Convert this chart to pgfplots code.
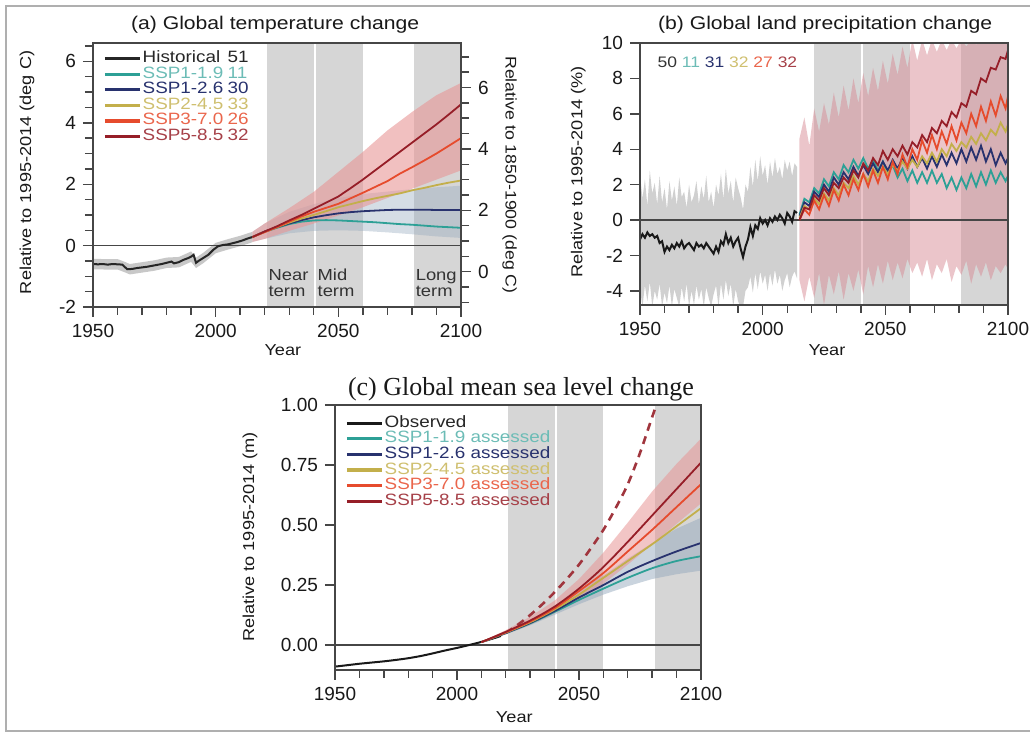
\documentclass[border=0pt]{standalone}
\usepackage{pgfplots}
\pgfplotsset{compat=1.18}
\usepackage{pgfplotstable}
\usepackage{fontspec}
\setmainfont{Liberation Sans}
\newfontfamily\wide{Liberation Sans}[FakeStretch=1.15]
\newfontfamily\tnr{Liberation Serif}

\definecolor{cA}{RGB}{45,160,150}
\definecolor{cB}{RGB}{40,50,110}
\definecolor{cC}{RGB}{195,175,75}
\definecolor{cD}{RGB}{230,75,45}
\definecolor{cE}{RGB}{150,30,40}
\definecolor{shadec}{RGB}{214,214,214}
\definecolor{hband}{RGB}{200,200,200}
\definecolor{pband}{RGB}{232,150,150}
\definecolor{pbandb}{RGB}{215,140,150}
\definecolor{bband}{RGB}{150,170,190}
\definecolor{axc}{RGB}{70,70,70}
\definecolor{framec}{RGB}{175,175,175}

% ---------- (a) temperature ----------
\pgfplotstableread{
year val
1950 -0.60
1952 -0.61
1954 -0.60
1956 -0.62
1958 -0.60
1960 -0.61
1962 -0.62
1963 -0.70
1964 -0.77
1966 -0.76
1968 -0.73
1970 -0.71
1972 -0.69
1974 -0.66
1976 -0.63
1978 -0.60
1980 -0.56
1982 -0.52
1983 -0.58
1985 -0.54
1987 -0.46
1989 -0.40
1990 -0.36
1991 -0.30
1992 -0.56
1993 -0.50
1995 -0.40
1997 -0.30
1999 -0.14
2001 -0.02
2003 0.02
2005 0.04
2007 0.08
2009 0.12
2011 0.17
2013 0.23
2015 0.28
}\tAH

\pgfplotstableread{
year s119 s126 s245 s370 s585
2015 0.28 0.28 0.28 0.28 0.28
2020 0.45 0.46 0.45 0.44 0.46
2025 0.58 0.60 0.60 0.60 0.63
2030 0.70 0.72 0.75 0.78 0.82
2035 0.78 0.83 0.88 0.95 1.00
2040 0.82 0.92 1.00 1.10 1.20
2045 0.83 0.99 1.12 1.23 1.40
2050 0.82 1.05 1.25 1.36 1.60
2055 0.80 1.09 1.35 1.54 1.87
2060 0.78 1.12 1.45 1.72 2.15
2065 0.76 1.14 1.54 1.91 2.45
2070 0.73 1.16 1.62 2.10 2.75
2075 0.70 1.17 1.70 2.34 3.05
2080 0.68 1.17 1.80 2.55 3.35
2085 0.65 1.17 1.88 2.77 3.65
2090 0.62 1.16 1.97 3.00 3.95
2095 0.60 1.16 2.05 3.25 4.27
2100 0.58 1.16 2.12 3.50 4.60
}\tAS

% ---------- (b) precipitation ----------
\pgfplotstableread{
year val
1950 -1.1
1951 -0.8
1952 -1.0
1953 -0.7
1954 -0.9
1955 -0.8
1956 -1.0
1957 -0.9
1958 -1.3
1959 -1.2
1960 -1.8
1961 -1.5
1962 -1.7
1963 -1.4
1964 -1.6
1965 -1.3
1966 -1.5
1967 -1.2
1968 -1.6
1969 -1.4
1970 -1.3
1971 -1.5
1972 -1.7
1973 -1.3
1974 -1.5
1975 -1.4
1976 -1.6
1977 -1.3
1978 -1.5
1979 -1.7
1980 -1.9
1981 -1.5
1982 -1.8
1983 -1.2
1984 -1.4
1985 -0.8
1986 -1.3
1987 -1.0
1988 -1.5
1989 -1.2
1990 -1.0
1991 -1.6
1992 -2.1
1993 -1.5
1994 -1.1
1995 -0.4
1996 -0.9
1997 -0.3
1998 -0.5
1999 0.1
2000 -0.2
2001 0.0
2002 -0.3
2003 0.1
2004 -0.1
2005 0.2
2006 0.0
2007 0.3
2008 0.1
2009 -0.2
2010 0.4
2011 0.2
2012 -0.1
2013 0.5
2014 0.4
}\tBH

\pgfplotstableread{
year s119 s126 s245 s370 s585
2015 0.3 0.2 0.1 0.0 0.0
2017 1.2 1.0 0.8 0.6 0.7
2019 1.0 0.8 0.6 0.3 0.6
2021 1.8 1.6 1.2 1.1 1.4
2023 1.5 1.3 0.9 0.6 1.1
2025 2.3 2.0 1.5 1.4 1.8
2027 1.9 1.6 1.1 0.8 1.4
2029 2.7 2.4 1.8 1.7 2.1
2031 2.3 2.0 1.4 1.1 1.8
2033 3.1 2.7 2.1 2.0 2.4
2035 2.7 2.3 1.8 1.4 2.1
2037 3.4 3.0 2.5 2.3 2.8
2039 2.9 2.5 2.0 1.7 2.4
2041 3.5 3.1 2.6 2.6 3.2
2043 2.9 2.6 2.2 1.9 2.8
2045 3.4 3.2 2.9 2.8 3.5
2047 2.8 2.7 2.5 2.1 3.1
2049 3.3 3.3 3.0 3.0 3.9
2051 2.6 2.8 2.6 2.3 3.4
2053 3.1 3.4 3.1 3.3 4.0
2055 2.4 2.9 2.8 2.6 3.6
2057 2.9 3.5 3.3 3.7 4.2
2059 2.2 2.9 2.9 3.0 3.7
2061 2.8 3.6 3.4 4.0 4.4
2063 2.1 3.0 3.0 3.4 4.1
2065 2.7 3.5 3.6 4.5 4.8
2067 2.1 2.9 3.2 3.8 4.4
2069 2.8 3.6 3.8 4.8 5.2
2071 2.1 3.0 3.3 4.0 4.9
2073 2.6 3.7 4.0 5.0 5.6
2075 1.8 3.1 3.6 4.3 5.3
2077 2.4 3.8 4.3 5.3 6.1
2079 1.7 3.2 3.9 4.5 5.8
2081 2.4 4.0 4.4 5.5 6.6
2083 1.8 3.3 4.1 4.9 6.4
2085 2.6 4.1 4.7 6.0 7.3
2087 1.9 3.4 4.3 5.3 7.1
2089 2.7 4.2 4.9 6.4 8.0
2091 2.0 3.3 4.5 5.6 7.8
2093 2.8 4.0 5.1 6.7 8.6
2095 2.1 3.1 4.8 5.9 8.5
2097 2.7 3.8 5.5 7.0 9.2
2099 2.2 3.2 5.0 6.3 9.1
2100 2.5 3.5 5.4 7.0 9.6
}\tBS

% ---------- (c) sea level ----------
\pgfplotstableread{
year val
1950 -0.090
1955 -0.084
1960 -0.078
1965 -0.073
1970 -0.068
1975 -0.062
1980 -0.055
1985 -0.046
1990 -0.035
1995 -0.023
2000 -0.012
2005 0.000
2010 0.013
2015 0.028
2018 0.038
}\tCH

\pgfplotstableread{
year s119 s126 s245 s370 s585
2010 0.012 0.012 0.012 0.012 0.012
2020 0.050 0.050 0.052 0.053 0.055
2030 0.090 0.092 0.095 0.098 0.102
2040 0.138 0.142 0.148 0.153 0.160
2050 0.188 0.198 0.210 0.225 0.235
2060 0.235 0.250 0.280 0.300 0.325
2070 0.280 0.305 0.350 0.390 0.430
2080 0.320 0.350 0.420 0.480 0.540
2090 0.350 0.390 0.495 0.575 0.650
2100 0.370 0.425 0.570 0.670 0.760
}\tCS

\pgfplotstableread{
year val
2020 0.050
2025 0.085
2030 0.125
2035 0.170
2040 0.220
2045 0.275
2050 0.335
2055 0.405
2060 0.480
2065 0.570
2070 0.670
2075 0.800
2080 0.950
2084 1.070
}\tCD

\pgfplotsset{
  panel/.style={
    scale only axis,
    xmin=1950, xmax=2100,
    xtick={1950,2000,2050,2100},
    minor xtick={1960,1970,1980,1990,2010,2020,2030,2040,2060,2070,2080,2090},
    xtick pos=bottom, ytick pos=left,
    tick align=outside,
    major tick length=5pt, minor tick length=4pt,
    tick style={axc, line width=0.7pt},
    axis line style={axc, line width=0.8pt},
    tick label style={font=\fontsize{9.5}{10}\selectfont, text=black!90},
    /pgf/number format/assume math mode=true,
    xticklabel style={/pgf/number format/1000 sep={}},
    axis on top,
    every axis title shift=0pt,
    every axis label/.append style={font=\wide\fontsize{7.9}{8}\selectfont, text=black!90},
    every axis title/.append style={font=\wide\fontsize{9.2}{9.5}\selectfont, text=black!90},
    legend cell align=left,
    legend image code/.code={\draw[##1, line width=1.6pt] (0pt,0pt) -- (17.5pt,0pt);},
  },
  leg/.style={legend style={draw=none, fill=none, anchor=north west,
    font=\wide\fontsize{8.2}{8.2}\selectfont, inner sep=0pt, row sep=0pt,
    nodes={inner sep=0.6pt, text height=5.3pt, text depth=1.3pt}}},
}
\newcommand\legitem[2]{\makebox[42.5pt][l]{#1}#2}

\begin{document}
\begin{tikzpicture}
\useasboundingbox (0,0) rectangle (515pt,366.5pt);
\draw[framec, line width=1.2pt] (515pt,1pt) -- (3pt,1pt) -- (3pt,363.5pt) -- (515pt,363.5pt);

% ================= (a) =================
\begin{axis}[panel, leg, width=184pt, height=132pt, at={(46.5pt,213pt)}, anchor=south west,
  ymin=-2, ymax=6.6,
  ytick={-2,0,2,4,6},
  minor ytick={-1.5,-1,-0.5,0.5,1,1.5,2.5,3,3.5,4.5,5,5.5,6.5},
  title={(a) Global temperature change},
  title style={at={(axis description cs:0.495,1.07)}, anchor=center},
  xlabel={Year}, xlabel style={at={(axis description cs:0.516,-0.163)}, anchor=center},
  ylabel={Relative to 1995-2014 (deg C)}, ylabel style={at={(axis description cs:-0.179,0.51)}, anchor=center},
  legend style={at={(axis description cs:0.027,0.972)}},
]
\addplot[fill=shadec, draw=none, forget plot] coordinates {(2021,-2) (2040,-2) (2040,6.6) (2021,6.6)};
\addplot[fill=shadec, draw=none, forget plot] coordinates {(2041,-2) (2060,-2) (2060,6.6) (2041,6.6)};
\addplot[fill=shadec, draw=none, forget plot] coordinates {(2081,-2) (2100,-2) (2100,6.6) (2081,6.6)};
% historical range
\addplot[fill=hband, draw=none, forget plot] coordinates {
 (1950,-0.43) (1955,-0.44) (1960,-0.44) (1963,-0.53) (1965,-0.60) (1970,-0.54) (1975,-0.48) (1980,-0.39)
 (1985,-0.37) (1990,-0.19) (1992,-0.39) (1995,-0.23) (2000,0.09) (2005,0.21) (2010,0.32) (2015,0.45)
 (2015,0.11) (2010,-0.02) (2005,-0.13) (2000,-0.25) (1995,-0.57) (1992,-0.73) (1990,-0.53) (1985,-0.71)
 (1980,-0.73) (1975,-0.82) (1970,-0.88) (1965,-0.94) (1963,-0.87) (1960,-0.78) (1955,-0.78) (1950,-0.77)};
% low-scenario range
\addplot[fill=bband, fill opacity=0.4, draw=none, forget plot] coordinates {
 (2015,0.45) (2020,0.72) (2030,1.10) (2040,1.35) (2050,1.55) (2060,1.68) (2070,1.76) (2080,1.84) (2090,1.90) (2100,1.95)
 (2100,0.25) (2090,0.30) (2080,0.37) (2070,0.43) (2060,0.48) (2050,0.50) (2040,0.48) (2030,0.40) (2020,0.22) (2015,0.12)};
% high-scenario range
\addplot[fill=pband, fill opacity=0.6, draw=none, forget plot] coordinates {
 (2015,0.45) (2020,0.72) (2030,1.22) (2040,1.75) (2050,2.40) (2060,3.05) (2070,3.75) (2080,4.35) (2090,4.90) (2100,5.30)
 (2100,2.45) (2090,2.15) (2080,1.85) (2070,1.55) (2060,1.25) (2050,0.98) (2040,0.72) (2030,0.48) (2020,0.22) (2015,0.12)};
\addplot[axc, line width=0.8pt, forget plot] coordinates {(1950,0) (2100,0)};
\addplot[black!85, line width=1pt] table[x=year, y=val]{\tAH};
\addlegendentry{\textcolor{black!85}{\legitem{Historical}{51}}}
\addplot[cA, line width=0.9pt] table[x=year, y=s119]{\tAS};
\addlegendentry{\textcolor{cA!70}{\legitem{SSP1-1.9}{11}}}
\addplot[cB, line width=0.9pt] table[x=year, y=s126]{\tAS};
\addlegendentry{\textcolor{cB}{\legitem{SSP1-2.6}{30}}}
\addplot[cC, line width=0.9pt] table[x=year, y=s245]{\tAS};
\addlegendentry{\textcolor{cC!80}{\legitem{SSP2-4.5}{33}}}
\addplot[cD, line width=0.9pt] table[x=year, y=s370]{\tAS};
\addlegendentry{\textcolor{cD!85}{\legitem{SSP3-7.0}{26}}}
\addplot[cE, line width=0.9pt] table[x=year, y=s585]{\tAS};
\addlegendentry{\textcolor{cE!85}{\legitem{SSP5-8.5}{32}}}
\node[anchor=north west, align=left, inner sep=0.5pt, font=\wide\fontsize{8}{8}\selectfont, text=black!80] at (axis cs:2021,-0.72) {Near\\term};
\node[anchor=north west, align=left, inner sep=0.5pt, font=\wide\fontsize{8}{8}\selectfont, text=black!80] at (axis cs:2041,-0.72) {Mid\\term};
\node[anchor=north west, align=left, inner sep=0.5pt, font=\wide\fontsize{8}{8}\selectfont, text=black!80] at (axis cs:2081,-0.72) {Long\\term};
\end{axis}

% right axis of (a)
\begin{axis}[scale only axis, width=184pt, height=132pt, at={(46.5pt,213pt)}, anchor=south west,
  xmin=1950, xmax=2100, ymin=-1.15, ymax=7.45,
  hide x axis, axis y line*=right,
  ytick={0,2,4,6},
  minor ytick={-1,-0.5,0.5,1,1.5,2.5,3,3.5,4.5,5,5.5,6.5,7},
  tick align=outside, major tick length=5pt, minor tick length=4pt,
  tick style={axc, line width=0.7pt},
  axis line style={axc, line width=0.8pt},
  tick label style={font=\fontsize{9.5}{10}\selectfont, text=black!90},
  /pgf/number format/assume math mode=true,
  ylabel={Relative to 1850-1900 (deg C)},
  ylabel style={font=\wide\fontsize{7.7}{8}\selectfont, text=black!90, rotate=180},
]
\addplot[draw=none, forget plot] coordinates {(1950,0) (2100,0)};
\end{axis}

% ================= (b) =================
\begin{axis}[panel, width=184pt, height=131pt, at={(320pt,214pt)}, anchor=south west,
  ymin=-4.8, ymax=10,
  ytick={-4,-2,0,2,4,6,8,10},
  title={(b) Global land precipitation change},
  title style={at={(axis description cs:0.503,1.07)}, anchor=center},
  xlabel={Year}, xlabel style={at={(axis description cs:0.508,-0.172)}, anchor=center},
  ylabel={Relative to 1995-2014 (\%)}, ylabel style={at={(axis description cs:-0.168,0.508)}, anchor=center},
]
\addplot[fill=shadec, draw=none, forget plot] coordinates {(2021,-4.8) (2040,-4.8) (2040,10) (2021,10)};
\addplot[fill=shadec, draw=none, forget plot] coordinates {(2041,-4.8) (2060,-4.8) (2060,10) (2041,10)};
\addplot[fill=shadec, draw=none, forget plot] coordinates {(2081,-4.8) (2100,-4.8) (2100,10) (2081,10)};
% historical range
\addplot[fill=hband, fill opacity=0.85, draw=none, forget plot] coordinates {
 (1950,2.6) (1951,1.2) (1952,2.3) (1953,0.8) (1954,2.8) (1955,1.5) (1956,2.1) (1957,0.9) (1958,2.5) (1959,1.0)
 (1960,1.8) (1961,0.6) (1962,2.2) (1963,1.1) (1964,1.9) (1965,0.8) (1966,2.4) (1967,1.3) (1968,1.6) (1969,0.7)
 (1970,2.0) (1971,1.0) (1972,1.4) (1973,2.2) (1974,0.9) (1975,1.9) (1976,1.2) (1977,2.5) (1978,1.0) (1979,1.6)
 (1980,0.7) (1981,2.0) (1982,1.4) (1983,2.6) (1984,1.2) (1985,2.9) (1986,1.5) (1987,2.2) (1988,1.0) (1989,2.4)
 (1990,1.8) (1991,1.3) (1992,0.6) (1993,2.0) (1994,1.6) (1995,3.0) (1996,1.9) (1997,3.4) (1998,2.2) (1999,3.6)
 (2000,2.5) (2001,3.1) (2002,2.0) (2003,3.3) (2004,2.4) (2005,3.5) (2006,2.6) (2007,3.0) (2008,2.3) (2009,3.4)
 (2010,2.8) (2011,3.3) (2012,2.5) (2013,3.2) (2014,3.0)
 (2014,-3.3) (2013,-2.9) (2012,-3.2) (2011,-3.8) (2010,-3.0) (2009,-3.4) (2008,-4.0) (2007,-3.1) (2006,-3.6) (2005,-2.8)
 (2004,-3.7) (2003,-3.0) (2002,-4.0) (2001,-3.1) (2000,-3.6) (1999,-2.9) (1998,-3.9) (1997,-3.0) (1996,-4.1) (1995,-3.2)
 (1994,-3.8) (1993,-4.0) (1992,-4.9) (1991,-4.9) (1990,-4.6) (1989,-3.9) (1988,-4.9) (1987,-3.6) (1986,-4.3) (1985,-3.4)
 (1984,-4.5) (1983,-3.6) (1982,-4.9) (1981,-3.7) (1980,-4.2) (1979,-4.9) (1978,-4.4) (1977,-3.8) (1976,-4.9) (1975,-3.9)
 (1974,-4.5) (1973,-3.7) (1972,-4.8) (1971,-4.0) (1970,-4.9) (1969,-3.6) (1968,-4.6) (1967,-3.8) (1966,-4.9) (1965,-4.4)
 (1964,-3.9) (1963,-4.9) (1962,-3.7) (1961,-4.7) (1960,-4.1) (1959,-4.9) (1958,-3.6) (1957,-4.5) (1956,-4.0) (1955,-4.9)
 (1954,-3.5) (1953,-4.6) (1952,-3.7) (1951,-4.9) (1950,-3.9)};
% scenario range
\addplot[fill=pbandb, fill opacity=0.5, draw=none, forget plot] coordinates {
 (2015,4.6) (2017,5.8) (2019,4.2) (2021,6.3) (2023,5.0) (2025,6.6) (2027,5.4) (2029,7.2) (2031,5.8) (2033,7.6)
 (2035,6.2) (2037,8.0) (2039,6.6) (2041,8.3) (2043,7.0) (2045,8.6) (2047,7.3) (2049,9.0) (2051,7.7) (2053,9.4)
 (2055,8.2) (2057,9.8) (2059,8.6) (2061,10.2) (2063,9.0) (2065,10.2) (2067,9.3) (2069,10.2) (2071,9.5) (2073,10.2)
 (2075,9.6) (2077,10.2) (2079,9.7) (2081,10.2) (2083,9.8) (2085,10.2) (2087,9.9) (2089,10.2) (2100,10.2)
 (2100,-2.8) (2099,-2.5) (2097,-3.0) (2095,-2.6) (2093,-3.4) (2091,-2.4) (2089,-3.2) (2087,-2.5) (2085,-3.6) (2083,-2.3)
 (2081,-3.1) (2079,-2.6) (2077,-3.5) (2075,-2.2) (2073,-3.0) (2071,-2.5) (2069,-3.4) (2067,-2.2) (2065,-3.2) (2063,-2.4)
 (2061,-3.0) (2059,-2.2) (2057,-3.3) (2055,-2.4) (2053,-3.4) (2051,-2.3) (2049,-3.6) (2047,-2.5) (2045,-3.8) (2043,-2.6)
 (2041,-4.2) (2039,-2.8) (2037,-4.0) (2035,-3.0) (2033,-4.5) (2031,-2.9) (2029,-4.2) (2027,-3.1) (2025,-4.8) (2023,-3.0)
 (2021,-4.4) (2019,-3.2) (2017,-4.6) (2015,-3.4)};
\addplot[axc, line width=0.8pt, forget plot] coordinates {(1950,0) (2100,0)};
\addplot[black!90, line width=1pt] table[x=year, y=val]{\tBH};
\addplot[cA, line width=0.9pt] table[x=year, y=s119]{\tBS};
\addplot[cB, line width=0.9pt] table[x=year, y=s126]{\tBS};
\addplot[cC, line width=0.9pt] table[x=year, y=s245]{\tBS};
\addplot[cD, line width=0.9pt] table[x=year, y=s370]{\tBS};
\addplot[cE, line width=0.9pt] table[x=year, y=s585]{\tBS};
\node[anchor=west, inner sep=0pt, font=\wide\fontsize{7.6}{7.6}\selectfont] at (axis cs:1957,8.9)
  {\textcolor{black!80}{50} \textcolor{cA!70}{11} \textcolor{cB}{31} \textcolor{cC!80}{32} \textcolor{cD!85}{27} \textcolor{cE!85}{32}};
\end{axis}

% ================= (c) =================
\begin{axis}[panel, leg, width=183pt, height=132.5pt, at={(167.5pt,31.5pt)}, anchor=south west,
  ymin=-0.104, ymax=1.0,
  ytick={0,0.25,0.5,0.75,1},
  yticklabel style={/pgf/number format/fixed, /pgf/number format/fixed zerofill, /pgf/number format/precision=2},
  title={(c) Global mean sea level change},
  title style={font=\tnr\fontsize{13}{13}\selectfont, at={(axis description cs:0.508,1.06)}, anchor=center},
  xlabel={Year}, xlabel style={at={(axis description cs:0.49,-0.177)}, anchor=center},
  ylabel={Relative to 1995-2014 (m)}, ylabel style={at={(axis description cs:-0.232,0.502)}, anchor=center},
  legend style={at={(axis description cs:0.027,0.962)}},
]
\addplot[fill=shadec, draw=none, forget plot] coordinates {(2021,-0.104) (2040,-0.104) (2040,1) (2021,1)};
\addplot[fill=shadec, draw=none, forget plot] coordinates {(2041,-0.104) (2060,-0.104) (2060,1) (2041,1)};
\addplot[fill=shadec, draw=none, forget plot] coordinates {(2081,-0.104) (2100,-0.104) (2100,1) (2081,1)};
\addplot[fill=bband, fill opacity=0.5, draw=none, forget plot] coordinates {
 (2010,0.014) (2020,0.058) (2030,0.106) (2040,0.160) (2050,0.225) (2060,0.290) (2070,0.360) (2080,0.425) (2090,0.485) (2100,0.530)
 (2100,0.310) (2090,0.295) (2080,0.275) (2070,0.245) (2060,0.210) (2050,0.170) (2040,0.126) (2030,0.082) (2020,0.044) (2010,0.010)};
\addplot[fill=pband, fill opacity=0.55, draw=none, forget plot] coordinates {
 (2010,0.014) (2020,0.062) (2030,0.118) (2040,0.185) (2050,0.275) (2060,0.385) (2070,0.510) (2080,0.640) (2090,0.755) (2100,0.860)
 (2100,0.590) (2090,0.505) (2080,0.420) (2070,0.335) (2060,0.255) (2050,0.190) (2040,0.132) (2030,0.085) (2020,0.045) (2010,0.010)};
\addplot[axc, line width=0.8pt, forget plot] coordinates {(1950,0) (2100,0)};
\addplot[cE!90, line width=1.3pt, dash pattern=on 4pt off 3pt, smooth, forget plot] table[x=year, y=val]{\tCD};
\addplot[black!90, line width=1pt, smooth] table[x=year, y=val]{\tCH};
\addlegendentry{\textcolor{black!85}{Observed}}
\addplot[cA, line width=0.9pt, smooth] table[x=year, y=s119]{\tCS};
\addlegendentry{\textcolor{cA!70}{SSP1-1.9 assessed}}
\addplot[cB, line width=0.9pt, smooth] table[x=year, y=s126]{\tCS};
\addlegendentry{\textcolor{cB}{SSP1-2.6 assessed}}
\addplot[cC, line width=0.9pt, smooth] table[x=year, y=s245]{\tCS};
\addlegendentry{\textcolor{cC!80}{SSP2-4.5 assessed}}
\addplot[cD, line width=0.9pt, smooth] table[x=year, y=s370]{\tCS};
\addlegendentry{\textcolor{cD!85}{SSP3-7.0 assessed}}
\addplot[cE, line width=0.9pt, smooth] table[x=year, y=s585]{\tCS};
\addlegendentry{\textcolor{cE!85}{SSP5-8.5 assessed}}
\end{axis}
\end{tikzpicture}
\end{document}
